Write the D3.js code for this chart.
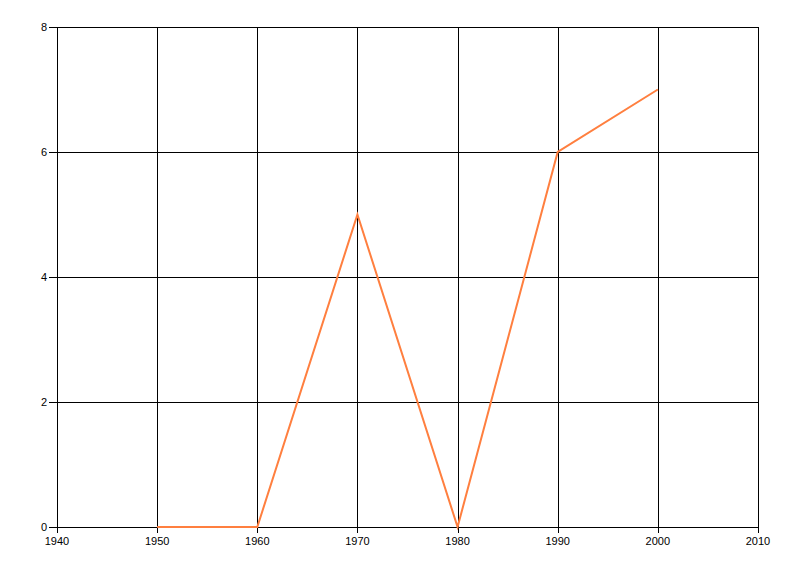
<!DOCTYPE html>
<html><head><meta charset="utf-8">
<script src="https://cdn.jsdelivr.net/npm/d3@7"></script>
<style>body{margin:0;background:#fff}svg{display:block}</style>
</head><body>
<script>
const years = [1950, 1960, 1970, 1980, 1990, 2000];
const values = [0, 0, 5, 0, 6, 7];
const xTicks = [1940, 1950, 1960, 1970, 1980, 1990, 2000, 2010];
const yTicks = [0, 2, 4, 6, 8];

const W = 800, H = 576;
const m = {left: 57, right: 42, top: 27, bottom: 49};
const svg = d3.select("body").append("svg").attr("width", W).attr("height", H);
const x = d3.scaleLinear().domain([1940, 2010]).range([m.left, W - m.right]);
const y = d3.scaleLinear().domain([0, 8]).range([H - m.bottom, m.top]);

const g = svg.append("g");
// grid
g.selectAll(".vg").data(xTicks).join("line")
  .attr("x1", d => Math.round(x(d)) + 0.5).attr("x2", d => Math.round(x(d)) + 0.5)
  .attr("y1", m.top).attr("y2", H - m.bottom + 6)
  .attr("stroke", "#000").attr("stroke-width", 1);
g.selectAll(".hg").data(yTicks).join("line")
  .attr("y1", d => Math.round(y(d)) + 0.5).attr("y2", d => Math.round(y(d)) + 0.5)
  .attr("x1", m.left - 8).attr("x2", W - m.right)
  .attr("stroke", "#000").attr("stroke-width", 1);

// labels
g.selectAll(".xl").data(xTicks).join("text")
  .attr("x", d => x(d)).attr("y", H - m.bottom + 18)
  .attr("text-anchor", "middle")
  .attr("font-family", "Liberation Sans, Arial, sans-serif").attr("font-size", 11)
  .attr("fill", "#000").text(d => d);
g.selectAll(".yl").data(yTicks).join("text")
  .attr("x", m.left - 10).attr("y", d => y(d) + 4)
  .attr("text-anchor", "end")
  .attr("font-family", "Liberation Sans, Arial, sans-serif").attr("font-size", 11)
  .attr("fill", "#000").text(d => d);

const line = d3.line().x((d, i) => x(years[i])).y(d => y(d));
svg.append("path").datum(values).attr("d", line)
  .attr("fill", "none").attr("stroke", "#FF7F3F").attr("stroke-width", 2)
  .attr("stroke-linejoin", "miter");
</script>
</body></html>
